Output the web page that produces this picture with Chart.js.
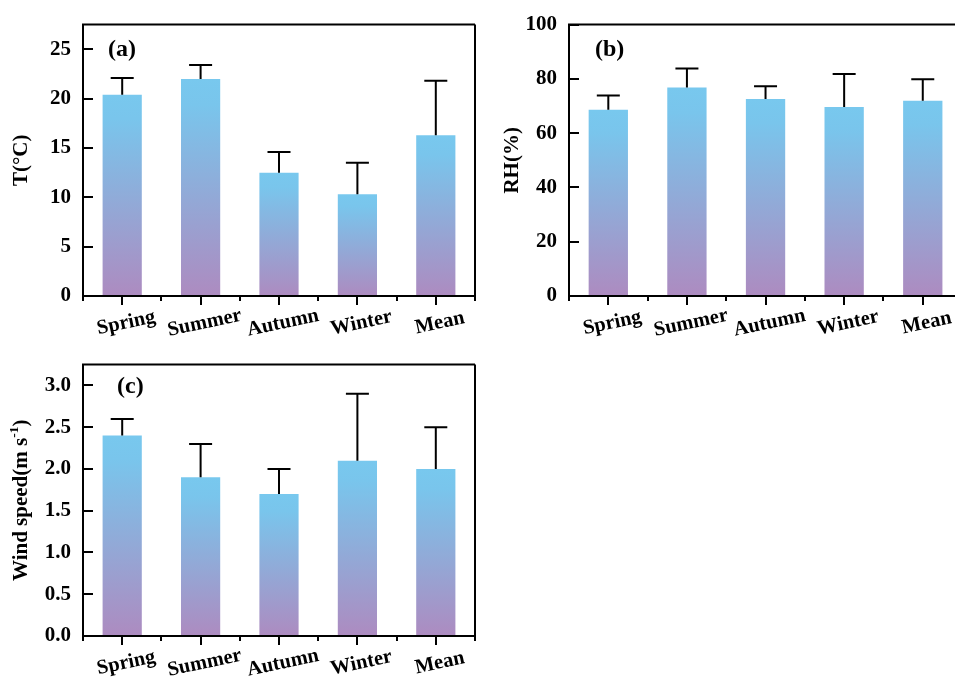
<!DOCTYPE html>
<html>
<head>
<meta charset="utf-8">
<script src="https://cdn.jsdelivr.net/npm/chart.js@4.4.1/dist/chart.umd.min.js"></script>
<style>
html,body{margin:0;padding:0;background:#fff;overflow:hidden;}
#wrap{position:relative;width:955px;height:677px;overflow:hidden;background:#fff;}
canvas{position:absolute;display:block;}
</style>
</head>
<body>
<div id="wrap">
<canvas id="ca" width="480" height="340" style="left:0;top:0;width:480px;height:340px"></canvas>
<canvas id="cb" width="475" height="340" style="left:480px;top:0;width:475px;height:340px"></canvas>
<canvas id="cc" width="480" height="337" style="left:0;top:340px;width:480px;height:337px"></canvas>
</div>
<script>
// ---------- data ----------
const categories = ['Spring', 'Summer', 'Autumn', 'Winter', 'Mean'];

const tempMean = [20.4, 22.0, 12.5, 10.3, 16.3];
const tempSD   = [1.7, 1.4, 2.1, 3.2, 5.5];
const tempTicks = [0, 5, 10, 15, 20, 25];

const rhMean = [68.6, 76.8, 72.6, 69.6, 71.9];
const rhSD   = [5.3, 7.0, 4.7, 12.2, 8.0];
const rhTicks = [0, 20, 40, 60, 80, 100];

const windMean = [2.4, 1.9, 1.7, 2.1, 2.0];
const windSD   = [0.2, 0.4, 0.3, 0.8, 0.5];
const windTicks = [0.0, 0.5, 1.0, 1.5, 2.0, 2.5, 3.0];

// ---------- helpers ----------
const FONT = "'Liberation Serif','Times New Roman',serif";
const TOP_COLOR = '#78C8EE';
const BOT_COLOR = '#AD8BC0';

function barGradient(c) {
  const chart = c.chart;
  if (!chart.chartArea || c.type !== 'data') return TOP_COLOR;
  const ys = chart.scales.y;
  const top = ys.getPixelForValue(c.raw.y);
  const bot = ys.getPixelForValue(0);
  const g = chart.ctx.createLinearGradient(0, top, 0, bot);
  g.addColorStop(0, TOP_COLOR);
  g.addColorStop(0.12, '#79C5EC');
  g.addColorStop(1, BOT_COLOR);
  return g;
}

function makePanel(id, values, errors, yTicks, yMax, decimals, cfg) {
  const deco = {
    id: 'deco' + id,
    afterDatasetsDraw(chart) {
      const ctx = chart.ctx;
      const a = chart.chartArea;
      const xs = chart.scales.x, ys = chart.scales.y;
      const meta = chart.getDatasetMeta(0);
      ctx.save();
      ctx.strokeStyle = '#000';
      ctx.lineWidth = 2;
      ctx.lineCap = 'butt';
      // error bars (upper only)
      values.forEach((v, i) => {
        const x = meta.data[i].x;
        const yb = ys.getPixelForValue(v);
        const yt = ys.getPixelForValue(v + errors[i]);
        ctx.beginPath();
        ctx.moveTo(x, yb);
        ctx.lineTo(x, yt);
        ctx.moveTo(x - 11.5, yt);
        ctx.lineTo(x + 11.5, yt);
        ctx.stroke();
      });
      // frame (right side may lie beyond the visible canvas)
      const right = xs.getPixelForValue(categories.length - 0.5);
      ctx.beginPath();
      ctx.moveTo(right, a.top);
      ctx.lineTo(a.left, a.top);
      ctx.lineTo(a.left, a.bottom);
      ctx.lineTo(right, a.bottom);
      ctx.lineTo(right, a.top);
      ctx.stroke();
      // y ticks (inward)
      yTicks.forEach(t => {
        const y = Math.round(ys.getPixelForValue(t));
        ctx.beginPath();
        ctx.moveTo(a.left, y);
        ctx.lineTo(a.left + 10, y);
        ctx.stroke();
      });
      // x ticks: major at categories, minor between
      categories.forEach((c, i) => {
        const x = Math.round(xs.getPixelForValue(i));
        ctx.beginPath();
        ctx.moveTo(x, a.bottom);
        ctx.lineTo(x, a.bottom + 9);
        ctx.stroke();
      });
      for (let i = 0; i <= categories.length; i++) {
        const x = Math.round(xs.getPixelForValue(i - 0.5));
        ctx.beginPath();
        ctx.moveTo(x, a.bottom);
        ctx.lineTo(x, a.bottom + 5);
        ctx.stroke();
      }
      // x labels (rotated)
      ctx.fillStyle = '#000';
      ctx.font = 'bold 20.5px ' + FONT;
      ctx.textAlign = 'center';
      ctx.textBaseline = 'middle';
      categories.forEach((c, i) => {
        const x = xs.getPixelForValue(i) + 4;
        ctx.save();
        ctx.translate(x, a.bottom + 27);
        ctx.rotate(-12 * Math.PI / 180);
        ctx.fillText(c, 0, 0);
        ctx.restore();
      });
      // panel label
      ctx.font = 'bold 24px ' + FONT;
      ctx.textAlign = 'left';
      ctx.fillText(cfg.label, a.left + cfg.labelDx, a.top + cfg.labelDy);
      // y title
      ctx.save();
      ctx.translate(cfg.titleX, (a.top + a.bottom) / 2);
      ctx.rotate(-Math.PI / 2);
      ctx.textBaseline = 'middle';
      const main = 'bold 21px ' + FONT, sup = 'bold 13.5px ' + FONT;
      let total = 0;
      cfg.title.forEach(seg => { ctx.font = seg.sup ? sup : main; total += ctx.measureText(seg.t).width; });
      let xx = -total / 2;
      ctx.textAlign = 'left';
      cfg.title.forEach(seg => {
        ctx.font = seg.sup ? sup : main;
        ctx.fillText(seg.t, xx, seg.sup ? -7 : 0);
        xx += ctx.measureText(seg.t).width;
      });
      ctx.restore();
      ctx.restore();
    }
  };

  return new Chart(document.getElementById(id), {
    type: 'bar',
    data: {
      datasets: [{
        data: values.map((v, i) => ({ x: i, y: v })),
        backgroundColor: barGradient,
        borderWidth: 0,
        categoryPercentage: 1.0,
        barPercentage: 0.5
      }]
    },
    options: {
      responsive: false,
      devicePixelRatio: 1,
      animation: false,
      events: [],
      layout: { padding: { left: 0, top: cfg.padTop, right: cfg.padRight, bottom: 0 } },
      plugins: { legend: { display: false }, tooltip: { enabled: false } },
      scales: {
        x: {
          type: 'linear',
          offset: false,
          min: -0.5,
          max: cfg.xMax,
          grid: { display: false },
          border: { display: false },
          ticks: { display: false },
          afterBuildTicks: s => { s.ticks = categories.map((c, i) => ({ value: i })); },
          afterFit: s => { s.height = cfg.xHeight; }
        },
        y: {
          min: 0,
          max: yMax,
          grid: { display: false, drawTicks: false },
          border: { display: false },
          afterBuildTicks: s => { s.ticks = yTicks.map(v => ({ value: v })); },
          ticks: {
            padding: 12,
            color: '#000',
            font: { family: FONT, size: 21, weight: 'bold' },
            callback: v => decimals ? Number(v).toFixed(decimals) : String(v)
          },
          afterFit: s => { s.width = cfg.yWidth; }
        }
      }
    },
    plugins: [deco]
  });
}

makePanel('ca', tempMean, tempSD, tempTicks, 27.5, 0, {
  padTop: 22, padRight: 5, xHeight: 44, yWidth: 83, xMax: 4.5,
  label: '(a)', labelDx: 25, labelDy: 25, titleX: 22,
  title: [{ t: 'T(°C)' }]
});

// panel (b) is cut by the right page edge: the visible area ends before category 4.5
makePanel('cb', rhMean, rhSD, rhTicks, 100, 0, {
  padTop: 22, padRight: 0, xHeight: 44, yWidth: 89, xMax: 4.41,
  label: '(b)', labelDx: 26, labelDy: 25, titleX: 33,
  title: [{ t: 'RH(%)' }]
});

makePanel('cc', windMean, windSD, windTicks, 3.25, 1, {
  padTop: 22, padRight: 5, xHeight: 41, yWidth: 83, xMax: 4.5,
  label: '(c)', labelDx: 34, labelDy: 22, titleX: 22,
  title: [{ t: 'Wind speed(m s' }, { t: '-1', sup: true }, { t: ')' }]
});
</script>
</body>
</html>
